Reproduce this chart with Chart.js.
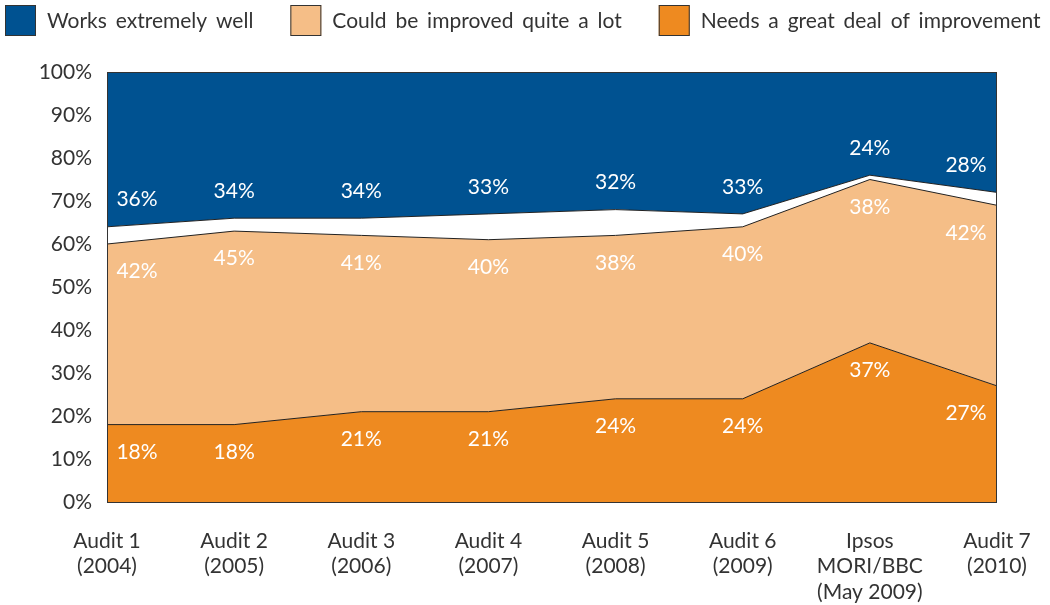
<!DOCTYPE html>
<html>
<head>
<meta charset="utf-8">
<script src="https://cdn.jsdelivr.net/npm/chart.js@4"></script>
<style>
  html, body { margin: 0; padding: 0; background: #fff; }
  #wrap { width: 1050px; height: 605px; position: relative; }
</style>
</head>
<body>
<div id="wrap"><canvas id="chart"></canvas></div>
<script>
const categories = [
  ["Audit 1", "(2004)"],
  ["Audit 2", "(2005)"],
  ["Audit 3", "(2006)"],
  ["Audit 4", "(2007)"],
  ["Audit 5", "(2008)"],
  ["Audit 6", "(2009)"],
  ["Ipsos", "MORI/BBC", "(May 2009)"],
  ["Audit 7", "(2010)"],
];
// percentages per answer
const worksWell = [36, 34, 34, 33, 32, 33, 24, 28];
const couldImprove = [42, 45, 41, 40, 38, 40, 38, 42];
const needsImprovement = [18, 18, 21, 21, 24, 24, 37, 27];
// remainder (no answer) shown as the white band
const remainder = worksWell.map((w, i) => 100 - w - couldImprove[i] - needsImprovement[i]);
const yTicks = [0, 10, 20, 30, 40, 50, 60, 70, 80, 90, 100];

const FONT = "Lato";
const WEIGHT = 400;
const SIZE = 21;
const TEXT = "#333333";
const BLUE = "#005291";
const PEACH = "#F5BE87";
const ORANGE = "#EE8A20";

// legend drawn at the top, left to right
const legendPlugin = {
  id: "topLegend",
  afterDraw(chart) {
    const ctx = chart.ctx;
    const items = chart.data.datasets.filter((d) => d.inLegend).reverse();
    ctx.save();
    ctx.font = `${WEIGHT} ${SIZE}px ${FONT}`;
    ctx.wordSpacing = "3.5px";
    ctx.textBaseline = "middle";
    ctx.textAlign = "left";
    let x = 5;
    items.forEach((d) => {
      ctx.fillStyle = d.backgroundColor;
      ctx.fillRect(x, 5, 31, 31);
      ctx.strokeStyle = "#333";
      ctx.lineWidth = 1;
      ctx.strokeRect(x + 0.5, 5.5, 30, 30);
      ctx.fillStyle = TEXT;
      ctx.fillText(d.label, x + 42, 21);
      x += 42 + ctx.measureText(d.label).width + 37;
    });
    ctx.restore();
  },
};

// plot frame
const framePlugin = {
  id: "frame",
  afterDatasetsDraw(chart) {
    const { ctx, chartArea: a } = chart;
    ctx.save();
    ctx.strokeStyle = "#333";
    ctx.lineWidth = 1;
    ctx.strokeRect(a.left + 0.5, a.top + 0.5, a.right - a.left - 1, a.bottom - a.top);
    ctx.restore();
  },
};

// value labels inside the areas
const valueLabels = {
  id: "valueLabels",
  afterDatasetsDraw(chart) {
    const { ctx } = chart;
    const x = chart.scales.x;
    const y = chart.scales.y;
    const n = categories.length;
    ctx.save();
    ctx.font = `${WEIGHT} ${SIZE}px ${FONT}`;
    ctx.fillStyle = "#ffffff";
    ctx.textAlign = "center";
    ctx.textBaseline = "middle";
    for (let i = 0; i < n; i++) {
      let px = x.getPixelForValue(i);
      if (i === 0) px += 30;
      if (i === n - 1) px -= 31;
      const orangeTop = needsImprovement[i];
      const peachTop = orangeTop + couldImprove[i];
      const blueBottom = peachTop + remainder[i];
      ctx.fillText(needsImprovement[i] + "%", px, y.getPixelForValue(orangeTop - 6.4));
      ctx.fillText(couldImprove[i] + "%", px, y.getPixelForValue(peachTop - 6.4));
      ctx.fillText(worksWell[i] + "%", px, y.getPixelForValue(blueBottom + 6.3));
    }
    ctx.restore();
  },
};

const area = (label, data, color, fill, inLegend) => ({
  label,
  data,
  backgroundColor: color,
  borderColor: "#222222",
  borderWidth: 1,
  fill,
  pointRadius: 0,
  tension: 0,
  inLegend,
});

new Chart(document.getElementById("chart"), {
  type: "line",
  data: {
    labels: categories,
    datasets: [
      area("Needs a great deal of improvement", needsImprovement, ORANGE, "origin", true),
      area("Could be improved quite a lot", couldImprove, PEACH, "-1", true),
      area("No answer", remainder, "#ffffff", "-1", false),
      area("Works extremely well", worksWell, BLUE, "-1", true),
    ],
  },
  options: {
    responsive: true,
    maintainAspectRatio: false,
    animation: false,
    layout: { padding: { top: 72, right: 53, left: 0, bottom: 0 } },
    plugins: {
      legend: { display: false },
      tooltip: { enabled: false },
    },
    scales: {
      x: {
        offset: false,
        grid: { display: false, drawTicks: false },
        border: { display: false },
        ticks: {
          color: TEXT,
          font: { family: FONT, size: SIZE, weight: WEIGHT, lineHeight: 1.22 },
          padding: 26,
          maxRotation: 0,
          autoSkip: false,
        },
        afterFit(scale) {
          scale.height = 103;
          scale.paddingLeft = 0;
          scale.paddingRight = 0;
        },
      },
      y: {
        stacked: true,
        min: 0,
        max: 100,
        afterBuildTicks(scale) { scale.ticks = yTicks.map((v) => ({ value: v })); },
        grid: { display: false, drawTicks: false },
        border: { display: false },
        ticks: {
          color: TEXT,
          font: { family: FONT, size: SIZE, weight: WEIGHT },
          padding: 15,
          callback: (v) => v + "%",
        },
        afterFit(scale) {
          scale.width = 107;
          scale.paddingTop = 0;
          scale.paddingBottom = 0;
        },
      },
    },
  },
  plugins: [framePlugin, valueLabels, legendPlugin],
});
</script>
</body>
</html>
